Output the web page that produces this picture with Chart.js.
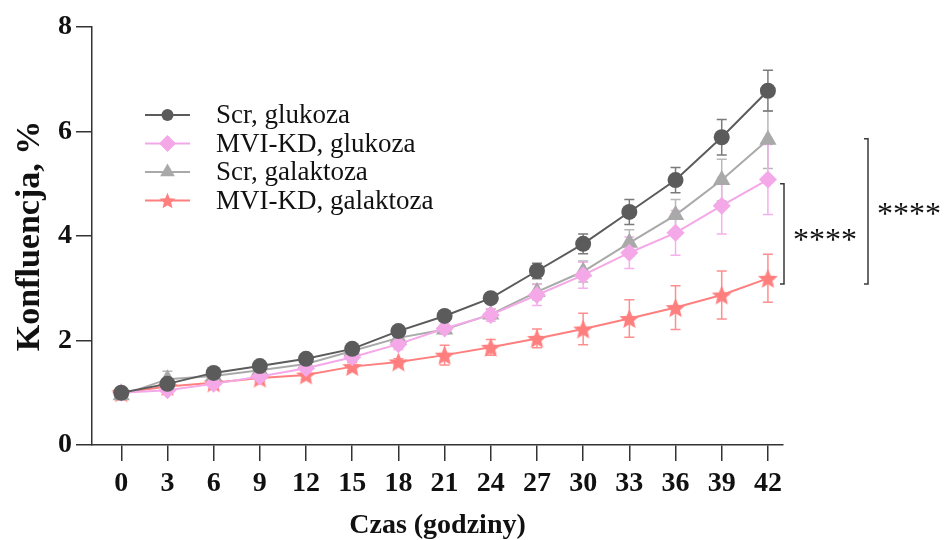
<!DOCTYPE html>
<html><head><meta charset="utf-8">
<script src="https://cdn.jsdelivr.net/npm/chart.js@4/dist/chart.umd.min.js"></script>
<style>html,body{margin:0;padding:0;background:#fff;}canvas{display:block;}</style>
</head><body>
<canvas id="c" width="944" height="540"></canvas>
<script>
// ---- data ----
const hours = [0,3,6,9,12,15,18,21,24,27,30,33,36,39,42];
const yTicks = [0,2,4,6,8];
const seriesNames = ['Scr, glukoza','MVI-KD, glukoza','Scr, galaktoza','MVI-KD, galaktoza'];
const scrGlu      = [1.00,1.17,1.38,1.51,1.65,1.84,2.18,2.47,2.81,3.33,3.85,4.46,5.07,5.89,6.78];
const scrGluErr   = [0.02,0.05,0.04,0.05,0.05,0.08,0.10,0.06,0.08,0.15,0.19,0.24,0.24,0.34,0.39];
const mviGlu      = [1.00,1.05,1.17,1.31,1.47,1.68,1.93,2.23,2.49,2.87,3.25,3.68,4.06,4.58,5.08];
const mviGluErr   = [0.03,0.05,0.07,0.06,0.06,0.08,0.10,0.10,0.12,0.20,0.25,0.30,0.43,0.54,0.67];
const scrGal      = [0.95,1.26,1.32,1.43,1.55,1.80,2.05,2.21,2.50,2.93,3.32,3.87,4.40,5.07,5.84];
const scrGalErr   = [0.03,0.15,0.05,0.05,0.05,0.06,0.06,0.08,0.10,0.15,0.20,0.25,0.30,0.40,0.55];
const mviGal      = [1.00,1.12,1.19,1.28,1.34,1.50,1.59,1.72,1.87,2.04,2.22,2.42,2.63,2.87,3.19];
const mviGalErr   = [0.03,0.06,0.12,0.06,0.08,0.08,0.06,0.19,0.15,0.18,0.30,0.36,0.42,0.46,0.46];
const xTitle = 'Czas (godziny)';
const yTitle = 'Konfluencja, %';
const sigLabel = '****';
const sigBrackets = [[5.0,3.08],[5.86,3.08]];

// ---- styles ----
const colors = ['#5b5b5b','#f4a8e8','#a9a9a9','#ff7f7f'];
const errColors = ['#7a7a7a','#f4b0ea','#b8b8b8','#ff8e8e'];
function makeStar(color,size){
  const c=document.createElement('canvas');c.width=c.height=size;
  const g=c.getContext('2d');g.fillStyle=color;g.beginPath();
  const cx=size/2,cy=size/2+size*0.05,R=size/2,r=R*0.45;
  for(let k=0;k<10;k++){const a=-Math.PI/2+k*Math.PI/5;const rr=k%2?r:R;g.lineTo(cx+rr*Math.cos(a),cy+rr*Math.sin(a));}
  g.closePath();g.fill();return c;
}
const starBig = makeStar(colors[3],21);
const starSmall = makeStar(colors[3],17);
const styles = [
  {pointStyle:'circle',radius:8,legendStyle:'circle',legendRadius:6},
  {pointStyle:'rectRot',radius:9,legendStyle:'rectRot',legendRadius:8.5},
  {pointStyle:'triangle',radius:10,legendStyle:'triangle',legendRadius:8.5},
  {pointStyle:starBig,radius:10,legendStyle:starSmall,legendRadius:8}
];
const values=[scrGlu,mviGlu,scrGal,mviGal];
const errors=[scrGluErr,mviGluErr,scrGalErr,mviGalErr];

const datasets = values.map((v,i)=>({
  label: seriesNames[i],
  data: hours.map((h,j)=>({x:h,y:v[j]})),
  borderColor: colors[i], backgroundColor: colors[i],
  borderWidth: 2, pointStyle: styles[i].pointStyle, pointRadius: styles[i].radius,
  pointBorderWidth: 0, pointHoverRadius: styles[i].radius, tension: 0
}));

const serif = '"Liberation Serif","Times New Roman",serif';

const errorBars = {
  id:'errorBars',
  beforeDatasetsDraw(chart){
    const {ctx,scales:{x,y}}=chart;
    ctx.save();ctx.lineWidth=1.5;
    for(let i=values.length-1;i>=0;i--){
      ctx.strokeStyle=errColors[i];
      hours.forEach((h,j)=>{
        const px=x.getPixelForValue(h);
        const t=y.getPixelForValue(values[i][j]+errors[i][j]);
        const b=y.getPixelForValue(values[i][j]-errors[i][j]);
        ctx.beginPath();
        ctx.moveTo(px,t);ctx.lineTo(px,b);
        ctx.moveTo(px-5,t);ctx.lineTo(px+5,t);
        ctx.moveTo(px-5,b);ctx.lineTo(px+5,b);
        ctx.stroke();
      });
    }
    ctx.restore();
  }
};

const customLegend = {
  id:'customLegend',
  afterDraw(chart){
    const ctx=chart.ctx;const x0=145,y0=115,dy=28.5;
    ctx.save();
    seriesNames.forEach((name,i)=>{
      const yy=y0+i*dy;
      ctx.strokeStyle=colors[i];ctx.lineWidth=2;
      ctx.beginPath();ctx.moveTo(x0,yy);ctx.lineTo(x0+45,yy);ctx.stroke();
      ctx.fillStyle=colors[i];
      Chart.helpers.drawPoint(ctx,{pointStyle:styles[i].legendStyle,radius:styles[i].legendRadius,rotation:0,borderWidth:0},x0+22.5,yy);
      ctx.fillStyle='#111';ctx.font='27px '+serif;ctx.textBaseline='middle';ctx.textAlign='left';
      ctx.fillText(name,x0+71,yy+1);
    });
    ctx.restore();
  }
};

const sigPlugin = {
  id:'sig',
  afterDraw(chart){
    const {ctx,chartArea,scales:{y}}=chart;
    const xs=[chartArea.right+1,chartArea.right+85];
    ctx.save();ctx.strokeStyle='#3a3a3a';ctx.lineWidth=1.5;ctx.fillStyle='#111';
    ctx.font='32px '+serif;ctx.textAlign='left';ctx.textBaseline='alphabetic';
    sigBrackets.forEach((br,k)=>{
      const t=y.getPixelForValue(br[0]),b=y.getPixelForValue(br[1]),bx=xs[k];
      ctx.beginPath();ctx.moveTo(bx-4,t);ctx.lineTo(bx,t);ctx.lineTo(bx,b);ctx.lineTo(bx-4,b);ctx.stroke();
      const mid=(t+b)/2 + (k===0?0:-3);
      ctx.fillText(sigLabel,bx+9,mid+16);
    });
    ctx.restore();
  }
};

new Chart(document.getElementById('c'),{
  type:'line',
  data:{datasets},
  options:{
    responsive:false,devicePixelRatio:1,animation:false,
    layout:{padding:{top:27,right:161,left:0,bottom:0}},
    plugins:{legend:{display:false},tooltip:{enabled:false}},
    scales:{
      x:{type:'linear',min:-1.9,max:42.98,
        afterBuildTicks:s=>{s.ticks=hours.map(v=>({value:v}));},
        afterFit:s=>{s.height=95;},
        grid:{drawOnChartArea:false,drawTicks:true,tickLength:16,color:'#333',lineWidth:1.5},
        border:{display:true,color:'#333',width:1.5},
        ticks:{color:'#111',font:{family:serif,size:28,weight:'bold'},padding:6,maxRotation:0,autoSkip:false},
        title:{display:true,text:xTitle,color:'#111',font:{family:serif,size:28,weight:'bold',lineHeight:1.0},padding:{top:0,bottom:0}}
      },
      y:{type:'linear',min:0,max:8,
        afterBuildTicks:s=>{s.ticks=yTicks.map(v=>({value:v}));},
        afterFit:s=>{s.width=92;},
        grid:{drawOnChartArea:false,drawTicks:true,tickLength:16,color:'#333',lineWidth:1.5},
        border:{display:true,color:'#333',width:1.5},
        ticks:{color:'#111',font:{family:serif,size:28,weight:'bold'},padding:4},
        title:{display:true,text:yTitle,color:'#111',font:{family:serif,size:34,weight:'bold',lineHeight:1.2},padding:{top:10,bottom:0}}
      }
    }
  },
  plugins:[errorBars,customLegend,sigPlugin]
});
</script>
</body></html>
